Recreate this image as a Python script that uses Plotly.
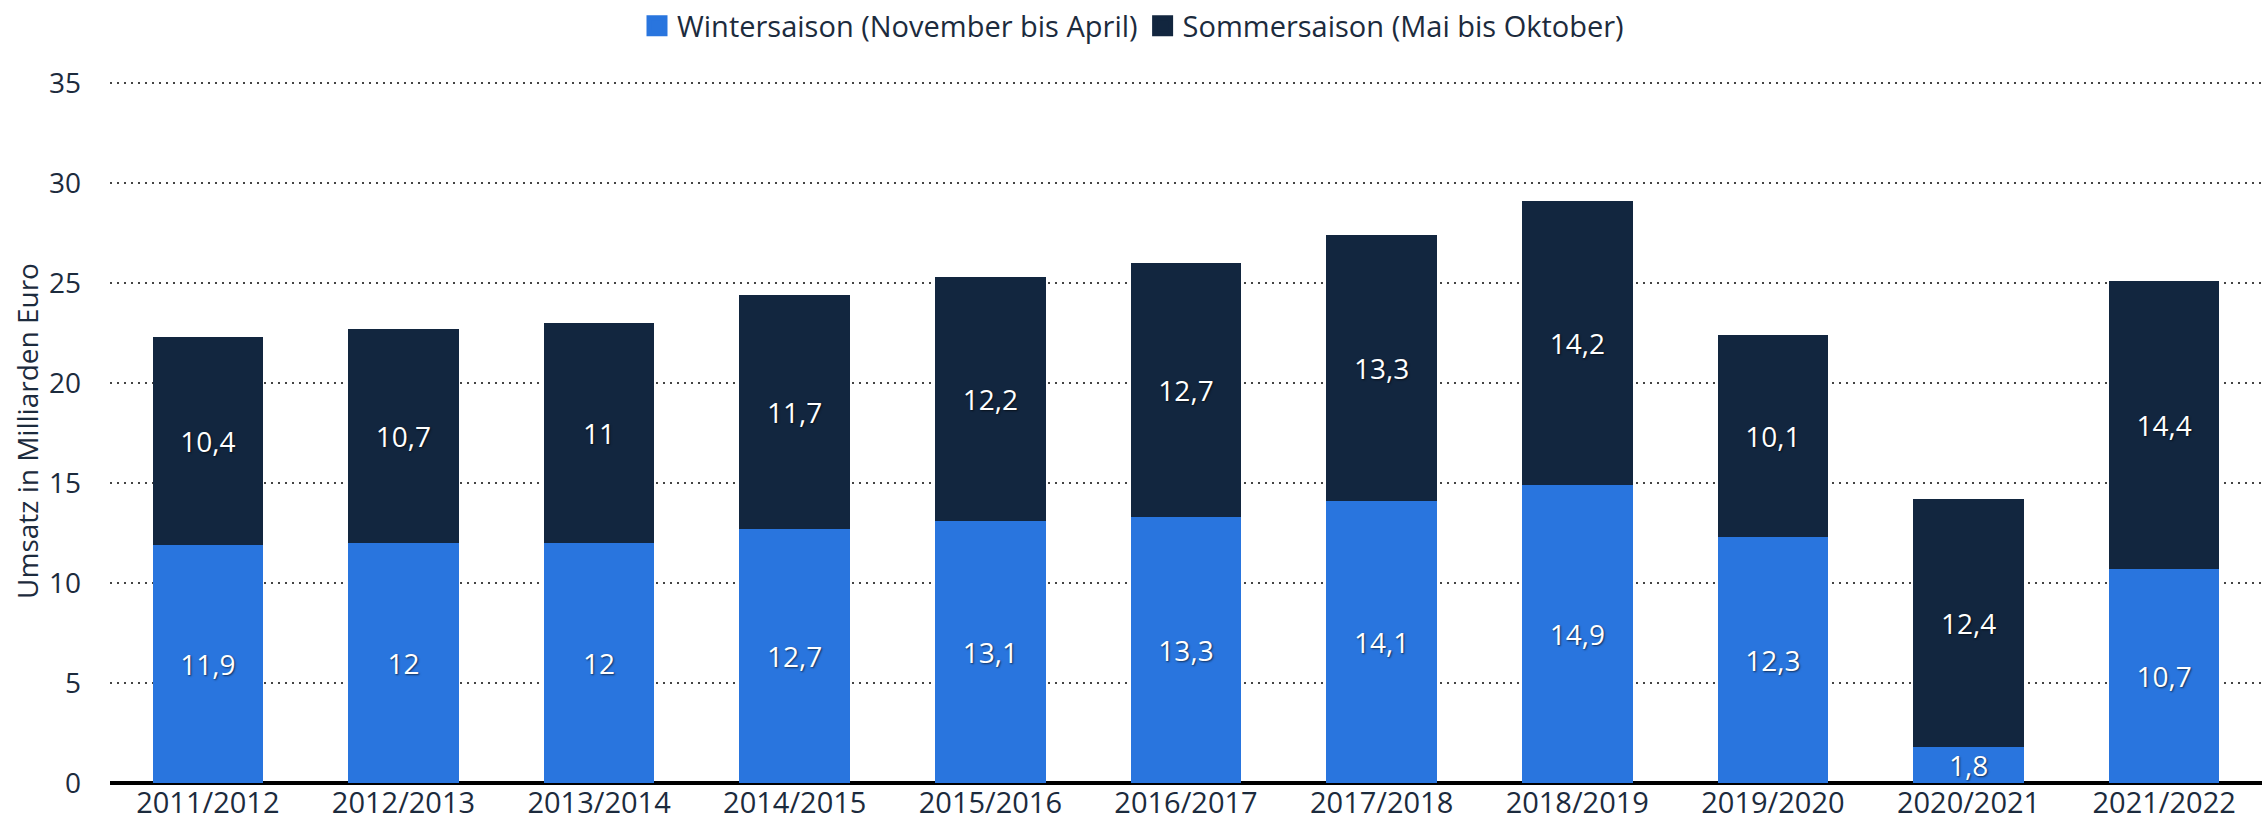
import plotly.graph_objects as go

categories = ["2011/2012", "2012/2013", "2013/2014", "2014/2015", "2015/2016", "2016/2017",
              "2017/2018", "2018/2019", "2019/2020", "2020/2021", "2021/2022"]
winter = [11.9, 12, 12, 12.7, 13.1, 13.3, 14.1, 14.9, 12.3, 1.8, 10.7]
summer = [10.4, 10.7, 11, 11.7, 12.2, 12.7, 13.3, 14.2, 10.1, 12.4, 14.4]
y_ticks = [0, 5, 10, 15, 20, 25, 30, 35]
series_names = ["Wintersaison (November bis April)", "Sommersaison (Mai bis Oktober)"]
series_colors = ["#2975de", "#12263f"]

def fmt(v):
    return ("%g" % v).replace(".", ",")

font_family = "Open Sans, Noto Sans, sans-serif"
text_color = "#1c2b3d"
label_font = dict(color="white", size=28, family=font_family,
                  shadow="1px 1px 2px rgba(0,0,0,0.6)")

fig = go.Figure()
for vals, name, color in zip([winter, summer], series_names, series_colors):
    fig.add_trace(go.Bar(
        x=categories, y=vals, name=name, showlegend=False, legendgroup=name,
        marker=dict(color=color, line=dict(width=0)),
        text=[fmt(v) for v in vals], textposition="inside", insidetextanchor="middle",
        textfont=label_font, textangle=0,
    ))
# legend entries with larger square symbols
for name, color in zip(series_names, series_colors):
    fig.add_trace(go.Scatter(
        x=[None], y=[None], mode="markers", name=name, legendgroup=name,
        marker=dict(symbol="square", size=16, color=color, line=dict(color=color, width=5)),
    ))

fig.update_layout(
    barmode="stack",
    bargap=0.435,
    width=2266, height=835,
    paper_bgcolor="white", plot_bgcolor="white",
    margin=dict(l=110, r=4, t=79, b=52, autoexpand=False),
    font=dict(family=font_family, color=text_color, size=28),
    uniformtext=dict(minsize=28, mode="show"),
    legend=dict(orientation="h", xref="container", yref="container",
                x=0.5, xanchor="center", y=0.969, yanchor="middle",
                font=dict(size=29, color=text_color), traceorder="normal",
                itemsizing="trace", itemwidth=30, bgcolor="rgba(0,0,0,0)"),
    xaxis=dict(type="category", showgrid=False, showline=False, ticks="",
               tickfont=dict(size=29, color=text_color), zeroline=False,
               automargin=False, range=[-0.5, 10.5]),
    yaxis=dict(range=[0, 35.2], tickvals=y_ticks, ticktext=[str(t) for t in y_ticks],
               showgrid=True, gridcolor="#444444", griddash="2px,5px", gridwidth=1.5,
               zeroline=True, zerolinecolor="black", zerolinewidth=4,
               tickfont=dict(size=28, color=text_color), ticks="", ticklabelstandoff=28,
               automargin=False,
               title=dict(text="Umsatz in Milliarden Euro", font=dict(size=28, color=text_color),
                          standoff=2)),
)

fig.write_html("out.html",
               config={"displayModeBar": False},
               post_script="document.body.style.margin='0px';document.body.style.overflow='hidden';")
